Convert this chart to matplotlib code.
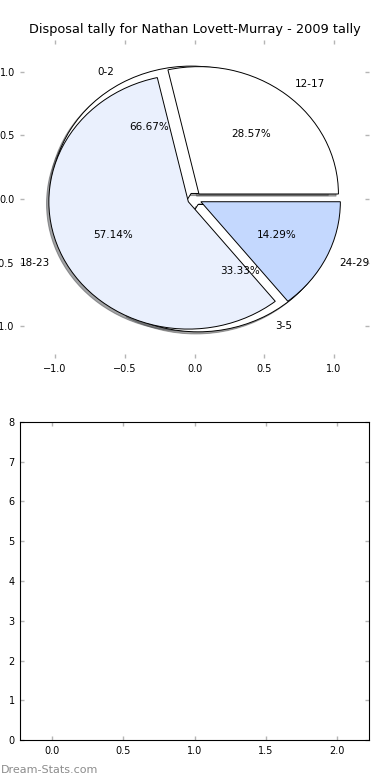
"""
Disposal tally pie for Nathan Lovett-Murray (2009), old matplotlib look
"""
import matplotlib
matplotlib.use("Agg")
import matplotlib.pyplot as plt

# pie 1 - low disposal games
low_labels = ["0-2", "3-5"]
low_counts = [2, 1]
low_colors = ["white", "white"]

# pie 2 - higher disposal games
high_labels = ["12-17", "18-23", "24-29"]
high_counts = [2, 4, 1]
high_colors = ["white", "#eaf0fd", "#c4d8fe"]

pie_ticks = [-1.0, -0.5, 0.0, 0.5, 1.0]
bar_xticks = [0.0, 0.5, 1.0, 1.5, 2.0]
bar_yticks = [0, 1, 2, 3, 4, 5, 6, 7, 8]

title = "Disposal tally for Nathan Lovett-Murray - 2009 tally"

fig = plt.figure(figsize=(3.9, 7.8), dpi=100)
fig.subplots_adjust(left=0.052, right=0.946, top=0.949, bottom=0.051, hspace=0.2)

wedge_style = {"edgecolor": "black", "linewidth": 0.7}
shadow_style = {"ox": -0.012, "oy": -0.012}
tick_style = dict(direction="in", length=3, width=1, color="#b5b5b5",
                  labelsize=7, top=True, right=True, pad=4)

ax1 = fig.add_subplot(211)
ax1.pie(low_counts, labels=low_labels, colors=low_colors, explode=[0.05, 0.05],
        autopct="%.2f%%", shadow=shadow_style, wedgeprops=wedge_style,
        textprops={"fontsize": 7.5})
ax1.pie(high_counts, labels=high_labels, colors=high_colors,
        explode=[0.05, 0.05, 0.05], autopct="%.2f%%", shadow=shadow_style,
        wedgeprops=wedge_style, textprops={"fontsize": 7.5})
ax1.set_aspect("auto")
ax1.set_frame_on(False)
ax1.set_xlim(-1.25, 1.25)
ax1.set_ylim(-1.25, 1.25)
ax1.set_xticks(pie_ticks)
ax1.set_yticks(pie_ticks)
ax1.tick_params(**tick_style)
ax1.set_title(title, fontsize=9.3, pad=5)

ax2 = fig.add_subplot(212)
ax2.set_xlim(-0.225, 2.225)
ax2.set_ylim(0, 8)
ax2.set_xticks(bar_xticks)
ax2.set_yticks(bar_yticks)
ax2.tick_params(**tick_style)

fig.text(0.002, 0.0125, "Dream-Stats.com", fontsize=8, color="#8c8c8c",
         ha="left", va="center")

fig.savefig("out.png", dpi=100)
